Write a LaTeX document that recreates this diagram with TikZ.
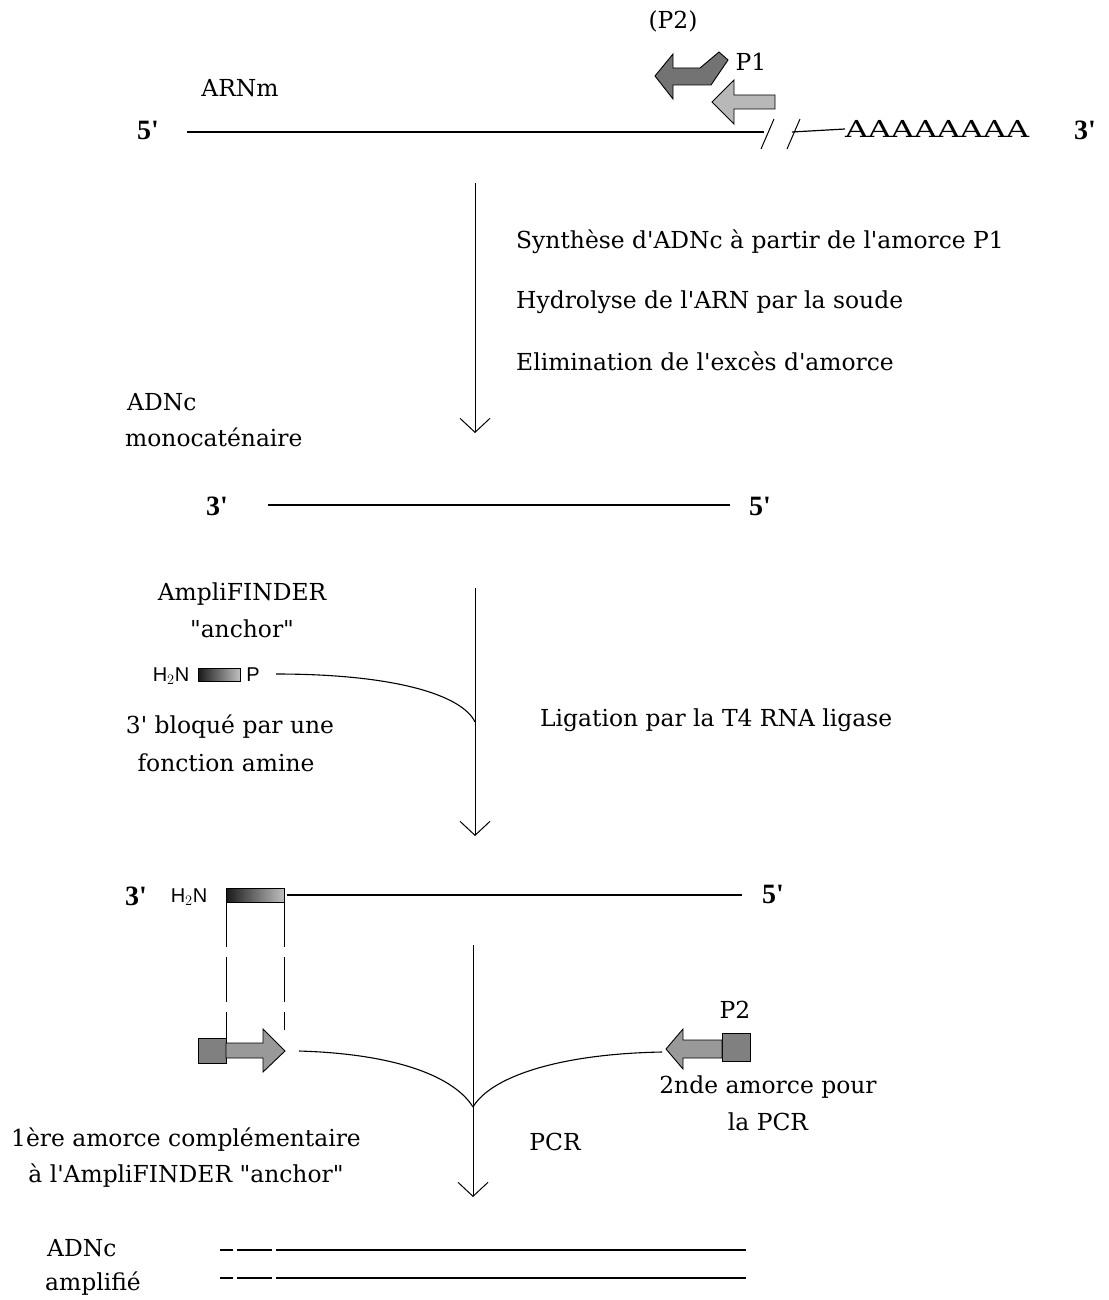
\documentclass[tikz,border=0pt]{standalone}
\usepackage{fontspec}
\setmainfont{DejaVu Serif}
\newfontfamily\primefont{Liberation Serif}
\newfontfamily\sansf{Liberation Sans}
\usetikzlibrary{arrows.meta}
\newcommand{\apo}{\textquotesingle}
\newcommand{\dquo}{\textquotedbl}
\begin{document}
\begin{tikzpicture}[x=1pt,y=-1pt,
  lbl/.style={font=\fontsize{23.4}{27}\selectfont, inner sep=0pt},
  endlbl/.style={font=\primefont\bfseries\fontsize{28}{30}\selectfont, inner sep=0pt},
  chem/.style={font=\sansf\fontsize{20}{24}\selectfont, inner sep=0pt},
  strand/.style={line width=1.2pt},
  flow/.style={line width=1pt, -{Straight Barb[length=14pt,width=30pt,line width=1pt]}},
  merge/.style={line width=1.1pt},
  darkarrow/.style={draw=black, line width=0.9pt, fill=black!55},
  lightarrow/.style={draw=black, line width=0.9pt, fill=black!28},
  primerbox/.style={draw=black, line width=0.9pt, fill=black!50},
  anchorbox/.style={draw=black, line width=0.6pt, left color=black!90, right color=black!25},
  guide/.style={line width=1pt, dash pattern=on 45pt off 10pt}
]
\useasboundingbox (0,0) rectangle (1108,1300);

% ---------- top: mRNA ----------
\node[lbl] (p2top) at (673,21) {(P2)};
\node[lbl] (p1lbl) at (751,62) {P1};
\node[lbl] (arnm) at (240,88) {ARNm};
\node[endlbl] (r5) at (148,130) {5\apo};
\coordinate (rl) at (187,132);
\coordinate (rr) at (764,132);
\draw[strand] (rl) -- (rr);
\draw[line width=1pt] (774,119) -- (761,149);
\draw[line width=1pt] (800,119) -- (787,149);
\node[lbl, anchor=west] (polyA) at (845,129) {\scalebox{1.36}[1]{AAAAAAAA}};
\coordinate (rl2) at (792,132);
\draw[strand] (rl2) -- (polyA.west);
\node[endlbl] (r3) at (1085,130) {3\apo};

\draw[darkarrow] (655,76) -- (673,54) -- (673,68) -- (700,68) -- (719,52) -- (728,60) -- (711,85) -- (673,85) -- (673,99) -- cycle;
\draw[lightarrow] (712,102) -- (734,80) -- (734,95) -- (775,95) -- (775,109) -- (734,109) -- (734,124) -- cycle;

% ---------- step 1 ----------
\coordinate (a1s) at (475,183);
\coordinate (a1e) at (475,433);
\draw[flow] (a1s) -- (a1e);
\node[lbl, anchor=west] (t1) at (516,242) {Synthèse d\apo ADNc à partir de l\apo amorce P1};
\node[lbl, anchor=west] (t2) at (516,302) {Hydrolyse de l\apo ARN par la soude};
\node[lbl, anchor=west] (t3) at (516,361) {Elimination de l\apo excès d\apo amorce};
\node[lbl, anchor=west] (adnc1) at (127,402) {ADNc};
\node[lbl, anchor=west] (mono) at (125,437) {monocaténaire};

% ---------- single strand cDNA ----------
\node[endlbl] (s3) at (217,506) {3\apo};
\node[endlbl] (s5) at (760,506) {5\apo};
\coordinate (sl) at (268,505);
\coordinate (sr) at (730,505);
\draw[strand] (sl) -- (sr);

% ---------- step 2 ----------
\coordinate (a2s) at (475,588);
\coordinate (a2e) at (475,836);
\coordinate (j2) at (475,722);
\draw[flow] (a2s) -- (a2e);
\node[lbl] (ampli) at (242,594) {AmpliFINDER};
\node[lbl] (anch) at (242,629) {\dquo anchor\dquo};
\node[chem] (h2n1) at (171,676) {H$_2$N};
\node[anchorbox, minimum width=42pt, minimum height=13pt, inner sep=0pt] (box1) at (219,675) {};
\node[chem] (p1) at (253,675) {P};
\draw[merge] (276,674) .. controls (395,674) and (462,695) .. (j2);
\node[lbl] (blq1) at (230,727) {3\apo\ bloqué par une};
\node[lbl] (blq2) at (226,763) {fonction amine};
\node[lbl, anchor=west] (lig) at (540,720) {Ligation par la T4 RNA ligase};

% ---------- ligated strand ----------
\node[endlbl] (l3) at (136,896) {3\apo};
\node[chem] (h2n2) at (189,897) {H$_2$N};
\node[anchorbox, minimum width=58pt, minimum height=14pt, inner sep=0pt] (box2) at (255,895) {};
\coordinate (ll) at (287,895);
\coordinate (lr) at (742,895);
\draw[strand] (ll) -- (lr);
\node[endlbl] (l5) at (773,894) {5\apo};

% dashed guides
\coordinate (g1a) at (226,902);
\coordinate (g1b) at (226,1038);
\coordinate (g2a) at (284,902);
\coordinate (g2b) at (284,1030);
\draw[guide] (g1a) -- (g1b);
\draw[guide] (g2a) -- (g2b);

% ---------- step 3 (PCR) ----------
\coordinate (a3s) at (473,945);
\coordinate (a3e) at (473,1197);
\coordinate (j3) at (473,1107);
\draw[flow] (a3s) -- (a3e);

% left primer
\draw[primerbox] (198,1038) rectangle (226,1063);
\draw[lightarrow, fill=black!40] (226,1043) -- (263,1043) -- (263,1029) -- (285,1051) -- (263,1072) -- (263,1058) -- (226,1058) -- cycle;
\coordinate (c1) at (299,1051);
\draw[merge] (c1) .. controls (400,1054) and (455,1078) .. (j3);

% right primer
\draw[primerbox] (722,1033) rectangle (750,1061);
\draw[lightarrow, fill=black!40] (722,1040) -- (683,1040) -- (683,1029) -- (666,1049) -- (683,1069) -- (683,1058) -- (722,1058) -- cycle;
\coordinate (c2) at (662,1052);
\draw[merge] (c2) .. controls (555,1054) and (490,1078) .. (j3);
\node[lbl] (p2lbl) at (735,1010) {P2};

\node[lbl] (am1) at (186,1140) {1ère amorce complémentaire};
\node[lbl] (am2) at (186,1176) {à l\apo AmpliFINDER \dquo anchor\dquo};
\node[lbl] (am3) at (768,1087) {2nde amorce pour};
\node[lbl] (am4) at (768,1122) {la PCR};
\node[lbl] (pcr) at (555,1142) {PCR};

% ---------- amplified cDNA ----------
\node[lbl, anchor=west] (adnc2) at (47,1248) {ADNc};
\node[lbl, anchor=west] (ampl) at (45,1284) {amplifié};
\foreach \yy/\nm in {1250/u,1278/d}{
  \coordinate (\nm a) at (220,\yy); \coordinate (\nm b) at (233,\yy);
  \coordinate (\nm c) at (237,\yy); \coordinate (\nm d) at (272,\yy);
  \coordinate (\nm e) at (276,\yy); \coordinate (\nm f) at (746,\yy);
  \draw[strand] (\nm a) -- (\nm b);
  \draw[strand] (\nm c) -- (\nm d);
  \draw[strand] (\nm e) -- (\nm f);
}
\end{tikzpicture}
\end{document}
